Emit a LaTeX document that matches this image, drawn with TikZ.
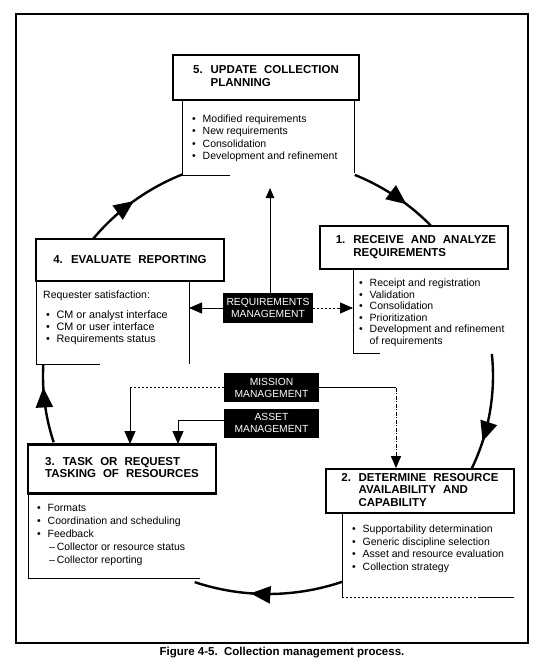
\documentclass[tikz,border=0pt]{standalone}
\usepackage{fontspec}
\setmainfont{Liberation Sans}
\newfontfamily\titlefont{Liberation Sans}[WordSpace=2.2]
\usetikzlibrary{arrows.meta,decorations.markings,calc}
\newcommand{\bl}{\makebox[10.5pt][l]{\textbullet}}
\newcommand{\lstab}[1]{\begin{tabular}[t]{@{}l@{}}#1\end{tabular}}
\begin{document}
\begin{tikzpicture}[x=1pt,y=-1pt,
  titlebox/.style={draw, line width=2.6pt, inner sep=0pt, font=\titlefont\bfseries\fontsize{11.5}{12.5}\selectfont},
  mgmt/.style={fill=black, text=white, inner sep=0pt, align=center, font=\fontsize{10.3}{12}\selectfont},
  lst/.style={anchor=base west, inner sep=0pt},
  thinline/.style={line width=0.8pt},
  dotline/.style={line width=0.8pt, dash pattern=on 1.5pt off 2.5pt},
  conn/.style={line width=0.8pt, -{Triangle[length=#1,width=0.85*#1]}},
  cyc/.style={line width=2.4pt, postaction={decorate},
    decoration={markings, mark=at position #1 with {\arrow{Triangle[length=20pt,width=17pt]}}}}
]
\useasboundingbox (0,0) rectangle (550,669);
\draw[line width=2.7pt] (16,14) rectangle (528,643);

% ---- title boxes
\node[titlebox, minimum width=186pt, minimum height=45pt] (t5) at (266,77.5)
  {\begin{tabular}{@{}l@{\hspace{8pt}}l@{}}5. & UPDATE COLLECTION\\ & PLANNING\end{tabular}};
\node[titlebox, minimum width=188pt, minimum height=43pt] (t1) at (414,247.5)
  {\hspace{4pt}\begin{tabular}{@{}l@{\hspace{8pt}}l@{}}1. & RECEIVE AND ANALYZE\\ & REQUIREMENTS\end{tabular}};
\node[titlebox, minimum width=188pt, minimum height=42pt] (t4) at (130,260)
  {4. EVALUATE REPORTING};
\node[titlebox, minimum width=188pt, minimum height=49pt] (t3) at (122,469)
  {\begin{tabular}{@{}l@{}}3. TASK OR REQUEST\\TASKING OF RESOURCES\end{tabular}\hspace{6pt}};
\node[titlebox, minimum width=188pt, minimum height=44pt] (t2) at (420,491)
  {\begin{tabular}{@{}l@{\hspace{7.5pt}}l@{}}2. & DETERMINE RESOURCE\\ & AVAILABILITY AND\\ & CAPABILITY\end{tabular}\hspace{17pt}};

% ---- content box outlines
\draw[thinline] (182,100) -- (182,175) -- (230,175);
\draw[thinline] (354,100) -- (354,173);
\draw[thinline] (353,269) -- (353,353) -- (380,353);
\draw[thinline] (36,281) -- (36,364) -- (100,364);
\draw[thinline] (189,281) -- (189,364);
\draw[thinline] (28,493) -- (28,578) -- (200,578);
\draw[thinline] (342,513) -- (342,597);
\draw[dotline] (342,597) -- (478,597);
\draw[thinline] (478,597) -- (514,597);

% ---- content texts
\node[lst, font=\fontsize{10.5}{12.4}\selectfont] (c5) at (192,122.5)
  {\lstab{\bl Modified requirements\\ \bl New requirements\\ \bl Consolidation\\ \bl Development and refinement}};
\node[lst, font=\fontsize{10.5}{11.6}\selectfont] (c1) at (359,286.5)
  {\lstab{\bl Receipt and registration\\ \bl Validation\\ \bl Consolidation\\ \bl Prioritization\\ \bl Development and refinement\\ \hspace*{10.5pt}of requirements}};
\node[lst, font=\fontsize{10.5}{12}\selectfont] (c4h) at (43,298.5) {Requester satisfaction:};
\node[lst, font=\fontsize{10.8}{12}\selectfont] (c4) at (46,318.5)
  {\lstab{\bl CM or analyst interface\\ \bl CM or user interface\\ \bl Requirements status}};
\node[lst, font=\fontsize{10.5}{13}\selectfont] (c3) at (37,511.5)
  {\lstab{\bl Formats\\ \bl Coordination and scheduling\\ \bl Feedback\\ \hspace*{12pt}--\,Collector or resource status\\ \hspace*{12pt}--\,Collector reporting}};
\node[lst, font=\fontsize{10.5}{12.6}\selectfont] (c2) at (352,532.5)
  {\lstab{\bl Supportability determination\\ \bl Generic discipline selection\\ \bl Asset and resource evaluation\\ \bl Collection strategy}};

% ---- management boxes
\node[mgmt, minimum width=90pt, minimum height=30pt] (rm) at (268,308) {REQUIREMENTS\\MANAGEMENT};
\node[mgmt, minimum width=95pt, minimum height=29pt] (mm) at (271.5,387.5) {MISSION\\MANAGEMENT};
\node[mgmt, minimum width=95pt, minimum height=29pt] (am) at (271.5,423) {ASSET\\MANAGEMENT};

% ---- connectors
\coordinate (up5) at (270,188);
\coordinate (in4) at (189,308);
\coordinate (in1) at (353,308);
\coordinate (in3a) at (130,444);
\coordinate (in3b) at (178,444);
\coordinate (in2) at (396,468);
\draw[conn=10pt] (rm.north -| up5) -- (up5);
\draw[conn=13pt] (rm.west) -- (in4);
\draw[dotline] (rm.east) -- ([xshift=-13pt]in1);
\draw[conn=13pt] ([xshift=-14pt]in1) -- (in1);
\draw[dotline] (mm.west) -- (mm.west -| in3a);
\draw[conn=13pt] (mm.west -| in3a) -- (in3a);
\draw[conn=13pt] ([yshift=3pt]am.west) -| (in3b);
\draw[thinline] (mm.east) -- (mm.east -| in2);
\draw[conn=12pt, dash pattern=on 4pt off 1.5pt on 1pt off 1.5pt] (mm.east -| in2) -- (in2);

% ---- cycle arcs
\coordinate (cc) at (268,376);
\coordinate (a5) at ($(cc)+(-67.3:225 and 218)$);
\coordinate (a1) at ($(cc)+(-5.8:225 and 218)$);
\coordinate (a2) at ($(cc)+(70.8:225 and 218)$);
\coordinate (a3) at ($(cc)+(162.3:225 and 218)$);
\coordinate (a4) at ($(cc)+(219:225 and 218)$);
\draw[cyc=0.65] (a5) arc[start angle=-67.3, end angle=-43.7, x radius=225, y radius=218];
\draw[cyc=0.75] (a1) arc[start angle=-5.8, end angle=25.2, x radius=225, y radius=218];
\draw[cyc=0.62] (a2) arc[start angle=70.8, end angle=109, x radius=225, y radius=218];
\draw[cyc=0.71] (a3) arc[start angle=162.3, end angle=183, x radius=225, y radius=218];
\draw[cyc=0.5] (a4) arc[start angle=219, end angle=247.7, x radius=225, y radius=218];

% ---- caption
\node[font=\bfseries\fontsize{11.5}{13}\selectfont] (cap) at (282,653)
  {Figure 4-5.\ \ Collection management process.};
\end{tikzpicture}
\end{document}
